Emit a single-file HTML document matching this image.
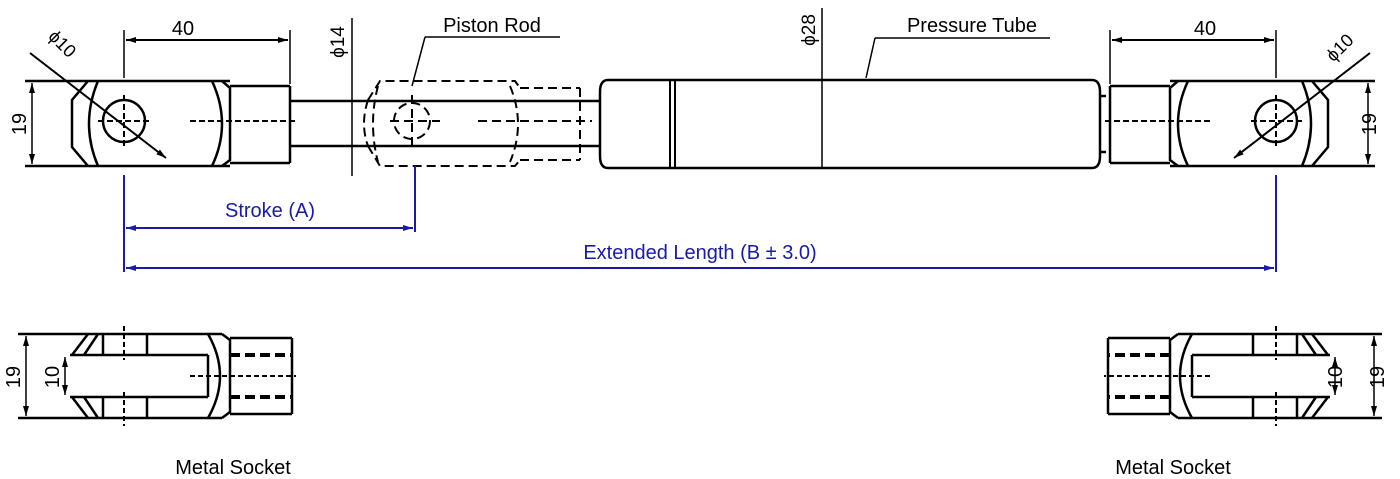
<!DOCTYPE html>
<html><head><style>
body{margin:0;background:#fff}
svg{display:block}
text{font-family:"Liberation Sans",sans-serif}
</style></head><body>
<svg width="1400" height="479" viewBox="0 0 1400 479" xmlns="http://www.w3.org/2000/svg">
<defs>
<marker id="a" viewBox="0 0 10 6" refX="10" refY="3" markerWidth="10" markerHeight="6" orient="auto-start-reverse" markerUnits="userSpaceOnUse"><path d="M0,0L10,3L0,6z" fill="#000"/></marker>
<marker id="b" viewBox="0 0 10 6" refX="10" refY="3" markerWidth="10" markerHeight="6" orient="auto-start-reverse" markerUnits="userSpaceOnUse"><path d="M0,0L10,3L0,6z" fill="#1a1aa8"/></marker>
<g id="topL" fill="none" stroke="#000" stroke-width="2.5">
 <line x1="25" y1="81" x2="230" y2="81"/>
 <line x1="25" y1="166" x2="230" y2="166"/>
 <path d="M88,81 L72,100 L72,147 L88,166"/>
 <path d="M98,81 Q80,124 98,166"/>
 <path d="M212,81 Q232,124 212,166"/>
 <path d="M222,81 L230,88 L230,160 L222,166"/>
 <line x1="230" y1="86" x2="290" y2="86"/>
 <line x1="230" y1="163" x2="290" y2="163"/>
 <line x1="290" y1="86" x2="290" y2="163"/>
 <circle cx="124" cy="121" r="21"/>
 <g stroke-dasharray="6,3" stroke-width="2"><line x1="98" y1="121" x2="152" y2="121"/><line x1="124" y1="95" x2="124" y2="148"/><line x1="190" y1="121" x2="298" y2="121"/></g>
 <line x1="124" y1="30" x2="124" y2="78" stroke-width="1.5"/>
 <line x1="290" y1="30" x2="290" y2="84" stroke-width="1.5"/>
 <line x1="126" y1="40" x2="288" y2="40" stroke-width="2" marker-start="url(#a)" marker-end="url(#a)"/>
 <line x1="32" y1="83" x2="32" y2="164" stroke-width="1.5" marker-start="url(#a)" marker-end="url(#a)"/>
 <line x1="30" y1="53" x2="166" y2="158" stroke-width="2" marker-end="url(#a)"/>
</g>
</defs>
<use href="#topL"/>
<text x="183" y="35" font-size="20" text-anchor="middle">40</text>
<text transform="translate(58,48) rotate(45)" font-size="18" text-anchor="middle">ϕ10</text>
<text transform="translate(26,124) rotate(-90)" font-size="20" text-anchor="middle">19</text>
<g transform="translate(1400,0) scale(-1,1)"><use href="#topL"/></g>
<text x="1205" y="35" font-size="20" text-anchor="middle">40</text>
<text transform="translate(1344,52) rotate(-45)" font-size="18" text-anchor="middle">ϕ10</text>
<text transform="translate(1376,124) rotate(-90)" font-size="20" text-anchor="middle">19</text>

<g fill="none" stroke="#000" stroke-width="2.5">
 <line x1="290" y1="101" x2="600" y2="101"/>
 <line x1="290" y1="146" x2="600" y2="146"/>
 <line x1="352" y1="18" x2="352" y2="176" stroke-width="1.5"/>
 <g stroke-dasharray="9,5" stroke-width="2">
  <path d="M368,100 L380,81 L515,81 L520,88"/>
  <path d="M368,146 L380,166 L515,166 L520,160"/>
  <path d="M368,100 Q360,124 368,146"/>
  <path d="M378,86 Q368,124 378,162"/>
  <path d="M510,86 Q526,124 510,162"/>
  <line x1="520" y1="88" x2="580" y2="88"/>
  <line x1="520" y1="160" x2="580" y2="160"/>
  <line x1="580" y1="88" x2="580" y2="160"/>
  <circle cx="412" cy="121" r="18"/>
  <line x1="390" y1="121" x2="440" y2="121"/>
  <line x1="412" y1="95" x2="412" y2="150"/>
  <line x1="478" y1="121" x2="592" y2="121"/>
 </g>
 <path d="M608,80 L1092,80 Q1100,80 1100,92 L1100,156 Q1100,168 1092,168 L608,168 Q600,168 600,156 L600,92 Q600,80 608,80Z"/>
 <line x1="670" y1="80" x2="670" y2="168" stroke-width="2"/>
 <line x1="675" y1="80" x2="675" y2="168" stroke-width="2"/>
 <line x1="1100" y1="96" x2="1106" y2="96"/><line x1="1100" y1="152" x2="1106" y2="152"/>
 <line x1="822" y1="8" x2="822" y2="168" stroke-width="1.5"/>
 <line x1="425" y1="37" x2="560" y2="37" stroke-width="1.5"/>
 <line x1="425" y1="37" x2="412" y2="86" stroke-width="1.5"/>
 <line x1="875" y1="38" x2="1050" y2="38" stroke-width="1.5"/>
 <line x1="875" y1="38" x2="866" y2="78" stroke-width="1.5"/>
</g>
<text transform="translate(344,42) rotate(-90)" font-size="19" text-anchor="middle">ϕ14</text>
<text transform="translate(815,30) rotate(-90)" font-size="19" text-anchor="middle">ϕ28</text>
<text x="492" y="32" font-size="20" text-anchor="middle">Piston Rod</text>
<text x="972" y="32" font-size="20" text-anchor="middle">Pressure Tube</text>

<g stroke="#1a1aa8" stroke-width="2" fill="none">
 <line x1="124" y1="175" x2="124" y2="272"/>
 <line x1="415" y1="166" x2="415" y2="232"/>
 <line x1="1276" y1="175" x2="1276" y2="272"/>
 <line x1="126" y1="228" x2="413" y2="228" marker-start="url(#b)" marker-end="url(#b)"/>
 <line x1="126" y1="268" x2="1274" y2="268" marker-start="url(#b)" marker-end="url(#b)"/>
</g>
<text x="270" y="217" font-size="20" fill="#1a1aa8" text-anchor="middle">Stroke (A)</text>
<text x="700" y="259" font-size="20" fill="#1a1aa8" text-anchor="middle">Extended Length (B ± 3.0)</text>

<defs>
<g id="botL" fill="none" stroke="#000" stroke-width="2.5">
 <line x1="18" y1="334" x2="222" y2="334"/>
 <line x1="18" y1="418" x2="222" y2="418"/>
 <line x1="70" y1="355" x2="208" y2="355"/>
 <line x1="70" y1="397" x2="208" y2="397"/>
 <path d="M72,355 L88,334 M84,355 L98,334 M72,397 L88,418 M84,397 L98,418"/>
 <line x1="103" y1="334" x2="103" y2="355"/><line x1="147" y1="334" x2="147" y2="355"/>
 <line x1="103" y1="397" x2="103" y2="418"/><line x1="147" y1="397" x2="147" y2="418"/>
 <path d="M208,355 L208,397"/>
 <path d="M208,334 Q232,376 208,418"/>
 <path d="M222,334 L230,340 L230,412 L222,418"/>
 <line x1="230" y1="338" x2="292" y2="338"/>
 <line x1="230" y1="414" x2="292" y2="414"/>
 <line x1="292" y1="338" x2="292" y2="414"/>
 <g stroke-dasharray="10,5" stroke-width="4"><line x1="230" y1="355" x2="292" y2="355"/><line x1="230" y1="397" x2="292" y2="397"/></g>
 <g stroke-dasharray="5,3" stroke-width="2"><line x1="124" y1="326" x2="124" y2="360"/><line x1="124" y1="392" x2="124" y2="426"/><line x1="190" y1="376" x2="296" y2="376"/></g>
 <line x1="26" y1="336" x2="26" y2="416" stroke-width="1.5" marker-start="url(#a)" marker-end="url(#a)"/>
 <line x1="65" y1="357" x2="65" y2="395" stroke-width="1.5" marker-start="url(#a)" marker-end="url(#a)"/>
</g>
</defs>
<use href="#botL"/>
<g transform="translate(1400,0) scale(-1,1)"><use href="#botL"/></g>
<text transform="translate(20,377) rotate(-90)" font-size="20" text-anchor="middle">19</text>
<text transform="translate(59,377) rotate(-90)" font-size="20" text-anchor="middle">10</text>
<text transform="translate(1342,377) rotate(-90)" font-size="20" text-anchor="middle">10</text>
<text transform="translate(1384,377) rotate(-90)" font-size="20" text-anchor="middle">19</text>
<text x="233" y="474" font-size="20" text-anchor="middle">Metal Socket</text>
<text x="1173" y="474" font-size="20" text-anchor="middle">Metal Socket</text>
</svg>
</body></html>
